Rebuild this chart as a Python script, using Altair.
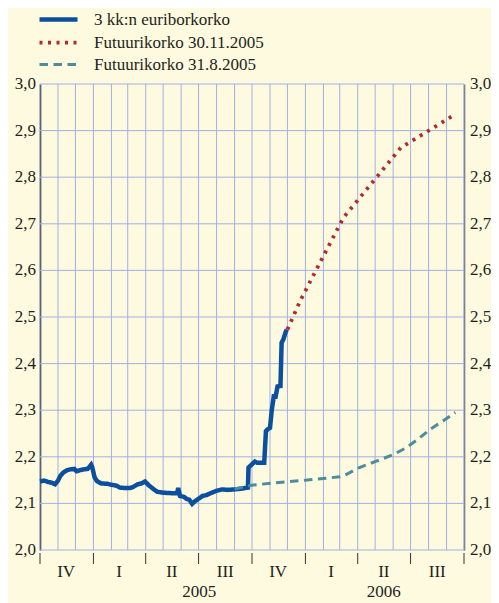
import altair as alt
import pandas as pd

# ---------------- data ----------------
S1 = "3 kk:n euriborkorko"
S2 = "Futuurikorko 30.11.2005"
S3 = "Futuurikorko 31.8.2005"
series_names = [S1, S2, S3]

euribor_dates = [
    "2004-10-01", "2004-10-08", "2004-10-15", "2004-10-22", "2004-10-27",
    "2004-11-01", "2004-11-05", "2004-11-10", "2004-11-16", "2004-11-22",
    "2004-11-29", "2004-12-03", "2004-12-08", "2004-12-15", "2004-12-22",
    "2004-12-28", "2004-12-30", "2005-01-03", "2005-01-07", "2005-01-14",
    "2005-01-25", "2005-02-01", "2005-02-10", "2005-02-15", "2005-02-25",
    "2005-03-05", "2005-03-10", "2005-03-18", "2005-03-25", "2005-03-31",
    "2005-04-07", "2005-04-14", "2005-04-21", "2005-05-01", "2005-05-15",
    "2005-05-25", "2005-05-27", "2005-05-30", "2005-06-06", "2005-06-10",
    "2005-06-15", "2005-06-20", "2005-06-24", "2005-07-01", "2005-07-08",
    "2005-07-15", "2005-07-22", "2005-08-01", "2005-08-10", "2005-08-20",
    "2005-09-01", "2005-09-15", "2005-09-24", "2005-09-25", "2005-10-01",
    "2005-10-06", "2005-10-10", "2005-10-22", "2005-10-25", "2005-10-28",
    "2005-11-01", "2005-11-04", "2005-11-08", "2005-11-10", "2005-11-14",
    "2005-11-19", "2005-11-21", "2005-11-24", "2005-11-28", "2005-11-30",
]
euribor_vals = [
    2.147, 2.149, 2.146, 2.144, 2.141,
    2.149, 2.159, 2.166, 2.171, 2.173,
    2.174, 2.169, 2.171, 2.173, 2.174,
    2.183, 2.177, 2.156, 2.148, 2.143,
    2.142, 2.140, 2.138, 2.134, 2.133,
    2.133, 2.135, 2.141, 2.143, 2.147,
    2.138, 2.131, 2.125, 2.123, 2.122,
    2.122, 2.133, 2.116, 2.114, 2.110,
    2.108, 2.099, 2.104, 2.110, 2.116,
    2.118, 2.122, 2.127, 2.130, 2.129,
    2.130, 2.132, 2.134, 2.177, 2.184,
    2.190, 2.187, 2.187, 2.255, 2.259,
    2.262, 2.300, 2.334, 2.325, 2.351,
    2.352, 2.445, 2.452, 2.468, 2.473,
]

fut_nov_dates = ["2005-12-01", "2005-12-23", "2006-03-01", "2006-03-08",
                 "2006-06-14", "2006-09-12"]
fut_nov_vals = [2.473, 2.535, 2.698, 2.714, 2.863, 2.932]

fut_aug_dates = ["2005-09-01", "2005-09-30", "2005-11-08", "2006-01-04",
                 "2006-03-01", "2006-03-12", "2006-04-04", "2006-05-02",
                 "2006-05-31", "2006-06-23", "2006-07-13", "2006-08-05",
                 "2006-08-27", "2006-09-16"]
fut_aug_vals = [2.131, 2.139, 2.144, 2.150, 2.157, 2.162, 2.177, 2.190,
                2.204, 2.219, 2.237, 2.260, 2.278, 2.295]

month_starts = pd.date_range("2004-10-01", "2006-10-01", freq="MS").strftime("%Y-%m-%d").tolist()
quarter_starts = ["2004-10-01", "2005-01-01", "2005-04-01", "2005-07-01",
                  "2005-10-01", "2006-01-01", "2006-04-01", "2006-07-01",
                  "2006-10-01"]
quarter_mids = ["2004-11-15", "2005-02-14", "2005-05-16", "2005-08-16",
                "2005-11-15", "2006-02-14", "2006-05-16", "2006-08-16"]
quarter_labels = ["IV", "I", "II", "III", "IV", "I", "II", "III"]
year_mids = ["2005-07-02", "2006-05-16"]
year_labels = ["2005", "2006"]
y_ticks = [2.0, 2.1, 2.2, 2.3, 2.4, 2.5, 2.6, 2.7, 2.8, 2.9, 3.0]
y_tick_labels = ["2,0", "2,1", "2,2", "2,3", "2,4", "2,5", "2,6", "2,7", "2,8", "2,9", "3,0"]

# ---------------- tables ----------------
df = pd.DataFrame({
    "date": euribor_dates + fut_nov_dates + fut_aug_dates,
    "value": euribor_vals + fut_nov_vals + fut_aug_vals,
    "series": [S1] * len(euribor_dates) + [S2] * len(fut_nov_dates) + [S3] * len(fut_aug_dates),
})
m_df = pd.DataFrame({"d": month_starts})
q_df = pd.DataFrame({"d": quarter_starts})
ql_df = pd.DataFrame({"d": quarter_mids, "label": quarter_labels})
yl_df = pd.DataFrame({"d": year_mids, "label": year_labels})
yt_df = pd.DataFrame({"v": y_ticks, "label": y_tick_labels})

month_values = [alt.DateTime(year=2004 + (9 + i) // 12, month=(9 + i) % 12 + 1, date=1, utc=True)
                for i in range(25)]

W, H = 424, 466
FONT = "'Liberation Serif', 'Times New Roman', serif"
TXT = "#231f20"
GRID = "#a3b0e2"
BG = "#fdfadf"

xscale = alt.Scale(type="utc", domain=[alt.DateTime(year=2004, month=10, date=1, utc=True),
                                       alt.DateTime(year=2006, month=10, date=1, utc=True)])
yscale = alt.Scale(domain=[2.0, 3.0], nice=False, zero=False)

x_axis = alt.Axis(values=month_values, labels=False, ticks=True, tickSize=4, tickColor="#333",
                  domain=True, domainColor="#333", domainWidth=1, offset=3, grid=False,
                  title=None)
left_axis = alt.Axis(values=y_ticks, labels=False, ticks=False, domain=True,
                     domainColor="#111", domainWidth=1.5, grid=False, title=None)
right_axis = alt.Axis(values=y_ticks, labels=False, orient="right", ticks=False,
                      domain=True, domainColor="#555", domainWidth=1.5, grid=False,
                      title=None)

leg = alt.Legend(title=None, orient="none", legendX=10, legendY=-73,
                 symbolType="M-3.8,0H3.8", symbolSize=100, labelFont=FONT,
                 labelFontSize=17, labelColor=TXT, labelOffset=27, rowPadding=4,
                 padding=0, labelLimit=400)

vgrid = alt.Chart(m_df).mark_rule(color=GRID, strokeWidth=1).encode(
    x=alt.X("d:T", scale=xscale, axis=None),
)
hgrid = alt.Chart(yt_df).mark_rule(color=GRID, strokeWidth=1).encode(
    y=alt.Y("v:Q", scale=yscale, axis=right_axis),
)

lines = alt.Chart(df).mark_line(interpolate="linear", strokeCap="butt").encode(
    x=alt.X("date:T", scale=xscale, axis=x_axis),
    y=alt.Y("value:Q", scale=yscale, axis=left_axis),
    color=alt.Color("series:N", scale=alt.Scale(domain=series_names,
                    range=["#0b4f9f", "#b02a2e", "#4d8c9c"]), legend=leg),
    strokeDash=alt.StrokeDash("series:N", scale=alt.Scale(domain=series_names,
                              range=[[1, 0], [3, 5.5], [8.5, 5.5]]), legend=leg),
    strokeWidth=alt.StrokeWidth("series:N", scale=alt.Scale(domain=series_names,
                                range=[4.5, 3, 4.5]), legend=leg),
)

ylab_left = alt.Chart(yt_df).mark_text(font=FONT, fontSize=17, color=TXT,
                                       align="right", baseline="middle").encode(
    y=alt.Y("v:Q", scale=yscale, axis=None),
    x=alt.value(-4),
    text="label:N",
)
ylab_right = alt.Chart(yt_df).mark_text(font=FONT, fontSize=17, color=TXT,
                                        align="left", baseline="middle").encode(
    y=alt.Y("v:Q", scale=yscale, axis=None),
    x=alt.value(W + 6),
    text="label:N",
)

qticks = alt.Chart(q_df).mark_rule(color="#333", strokeWidth=1).encode(
    x=alt.X("d:T", scale=xscale, axis=None),
    y=alt.value(H + 3), y2=alt.value(H + 14),
)

qlabels = alt.Chart(ql_df).mark_text(font=FONT, fontSize=17, color=TXT,
                                     baseline="middle").encode(
    x=alt.X("d:T", scale=xscale, axis=None),
    y=alt.value(H + 22),
    text="label:N",
)

ylabels = alt.Chart(yl_df).mark_text(font=FONT, fontSize=17, color=TXT,
                                     baseline="middle").encode(
    x=alt.X("d:T", scale=xscale, axis=None),
    y=alt.value(H + 42),
    text="label:N",
)

chart = alt.layer(vgrid, hgrid, lines, ylab_left, ylab_right, qticks, qlabels,
                  ylabels).resolve_axis(
    y="independent"
).properties(
    width=W, height=H,
    autosize=alt.AutoSizeParams(type="none"),
    padding={"left": 32, "top": 76, "right": 27, "bottom": 53},
    background=BG,
).configure_view(stroke=None, fill=BG)

chart.save("out.html", embed_options={"renderer": "svg", "actions": False})
